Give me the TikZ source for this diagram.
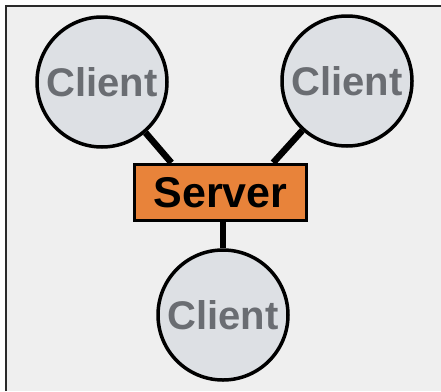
\documentclass[tikz,border=0pt]{standalone}
\usepackage{fontspec}
\setmainfont{Liberation Sans}
\usetikzlibrary{calc}
\definecolor{framebg}{HTML}{EFEFEF}
\definecolor{framecol}{HTML}{2A2A2A}
\definecolor{clientfill}{HTML}{DDE0E4}
\definecolor{clienttext}{HTML}{6A6D72}
\definecolor{serverfill}{HTML}{E8833A}
\tikzset{
  client/.style={circle, draw=black, line width=3.5pt, fill=clientfill,
    minimum size=130pt, inner sep=0pt, text=clienttext,
    font=\fontsize{40}{40}\selectfont\bfseries},
  serverbox/.style={rectangle, draw=black, line width=3.5pt, fill=serverfill,
    minimum width=172pt, minimum height=56pt, inner sep=0pt, text=black,
    font=\fontsize{43}{43}\selectfont\bfseries},
  link/.style={draw=black, line width=6.5pt}
}
\begin{document}
\begin{tikzpicture}[x=1pt,y=-1pt]
\useasboundingbox (0,0) rectangle (441,391);
\fill[white] (0,0) rectangle (441,391);
\fill[framebg] (6,6) rectangle (441,391);
\draw[framecol, line width=2pt] (6,391) -- (6,6) -- (441,6);
\node[serverbox] (server) at (220.5,192.5) {Server};
\node[client] (c1) at (102,82) {Client};
\node[client] (c2) at (347,81) {Client};
\node[client] (c3) at (223,315) {Client};
\path[link] (c1) -- ($(server.north west)!0.22!(server.north east)$);
\path[link] (c2) -- ($(server.north west)!0.80!(server.north east)$);
\path[link] (c3 |- server.south) -- (c3);
\end{tikzpicture}
\end{document}
